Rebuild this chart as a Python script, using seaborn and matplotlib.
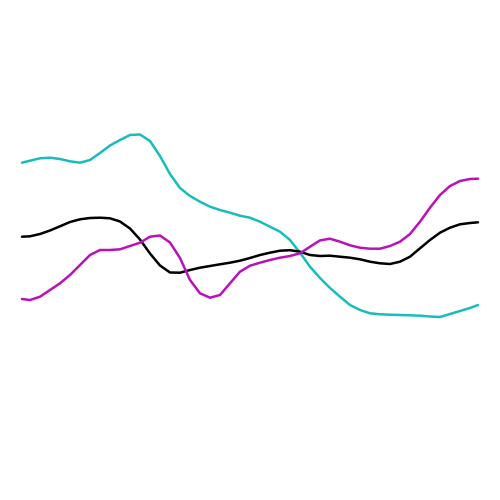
import matplotlib
matplotlib.use("Agg")

import pandas as pd
import matplotlib.pyplot as plt
import seaborn as sns

sns.set_theme(style="white")

x = [22, 30, 40, 50, 60, 70, 80, 90, 100, 110, 120, 130, 140, 150, 160, 170,
     180, 190, 200, 210, 220, 230, 240, 250, 260, 270, 280, 290, 300, 310,
     320, 330, 340, 350, 360, 370, 380, 390, 400, 410, 420, 430, 440, 450,
     460, 470, 478]

cyan = [162.7, 160.7, 158.3, 157.7, 159, 161.3, 162.7, 160, 153, 145.5, 140,
        135, 134.5, 141, 156, 174, 188, 196, 201.7, 206.7, 210, 212.7, 215.7,
        217.7, 221.7, 226.7, 231.7, 240, 252.7, 266.7, 278, 288, 296.7, 305,
        310, 313.3, 314.3, 314.7, 315, 315.3, 315.7, 316.5, 317, 314, 311,
        308, 305]

black = [236.7, 236.3, 234, 230.5, 226.3, 222, 219.3, 218, 217.7, 218.3,
         221.5, 228.5, 239.5, 253.5, 265.5, 272.5, 272.7, 270, 267.7, 266,
         264.3, 262.7, 260.7, 258, 255, 252.7, 250.7, 250.2, 251.7, 255, 256,
         255.7, 256.7, 257.7, 259.3, 261.7, 263.3, 264, 261.7, 256.7, 248.3,
         240, 232.7, 227.7, 224.3, 223, 222.3]

magenta = [299, 300, 296.7, 290, 283.3, 275, 265, 255, 250, 250, 249.3, 246,
           242.7, 236.7, 235.5, 242.5, 258, 280, 293.3, 297.7, 295, 283.3,
           271.7, 265.7, 262.7, 260, 257.7, 256, 253.3, 246.7, 240.4, 238.7,
           241.7, 245.3, 247.7, 248.7, 248.7, 246, 241.7, 234, 221.7, 207.7,
           195, 186, 181, 179, 178.7]

series = {"cyan": cyan, "black": black, "magenta": magenta}
df = pd.DataFrame([
    {"x": xi, "y": yi, "series": name}
    for name, vals in series.items()
    for xi, yi in zip(x, vals)
])

palette = {"cyan": "#17bdbd", "black": "#000000", "magenta": "#bb11bb"}

fig = plt.figure(figsize=(5, 5), dpi=100)
ax = fig.add_axes([0, 0, 1, 1])
sns.lineplot(data=df, x="x", y="y", hue="series", palette=palette,
             linewidth=1.8, legend=False, ax=ax)
ax.set_xlim(0, 500)
ax.set_ylim(500, 0)
ax.axis("off")

fig.savefig("out.png", dpi=100, facecolor="white")
